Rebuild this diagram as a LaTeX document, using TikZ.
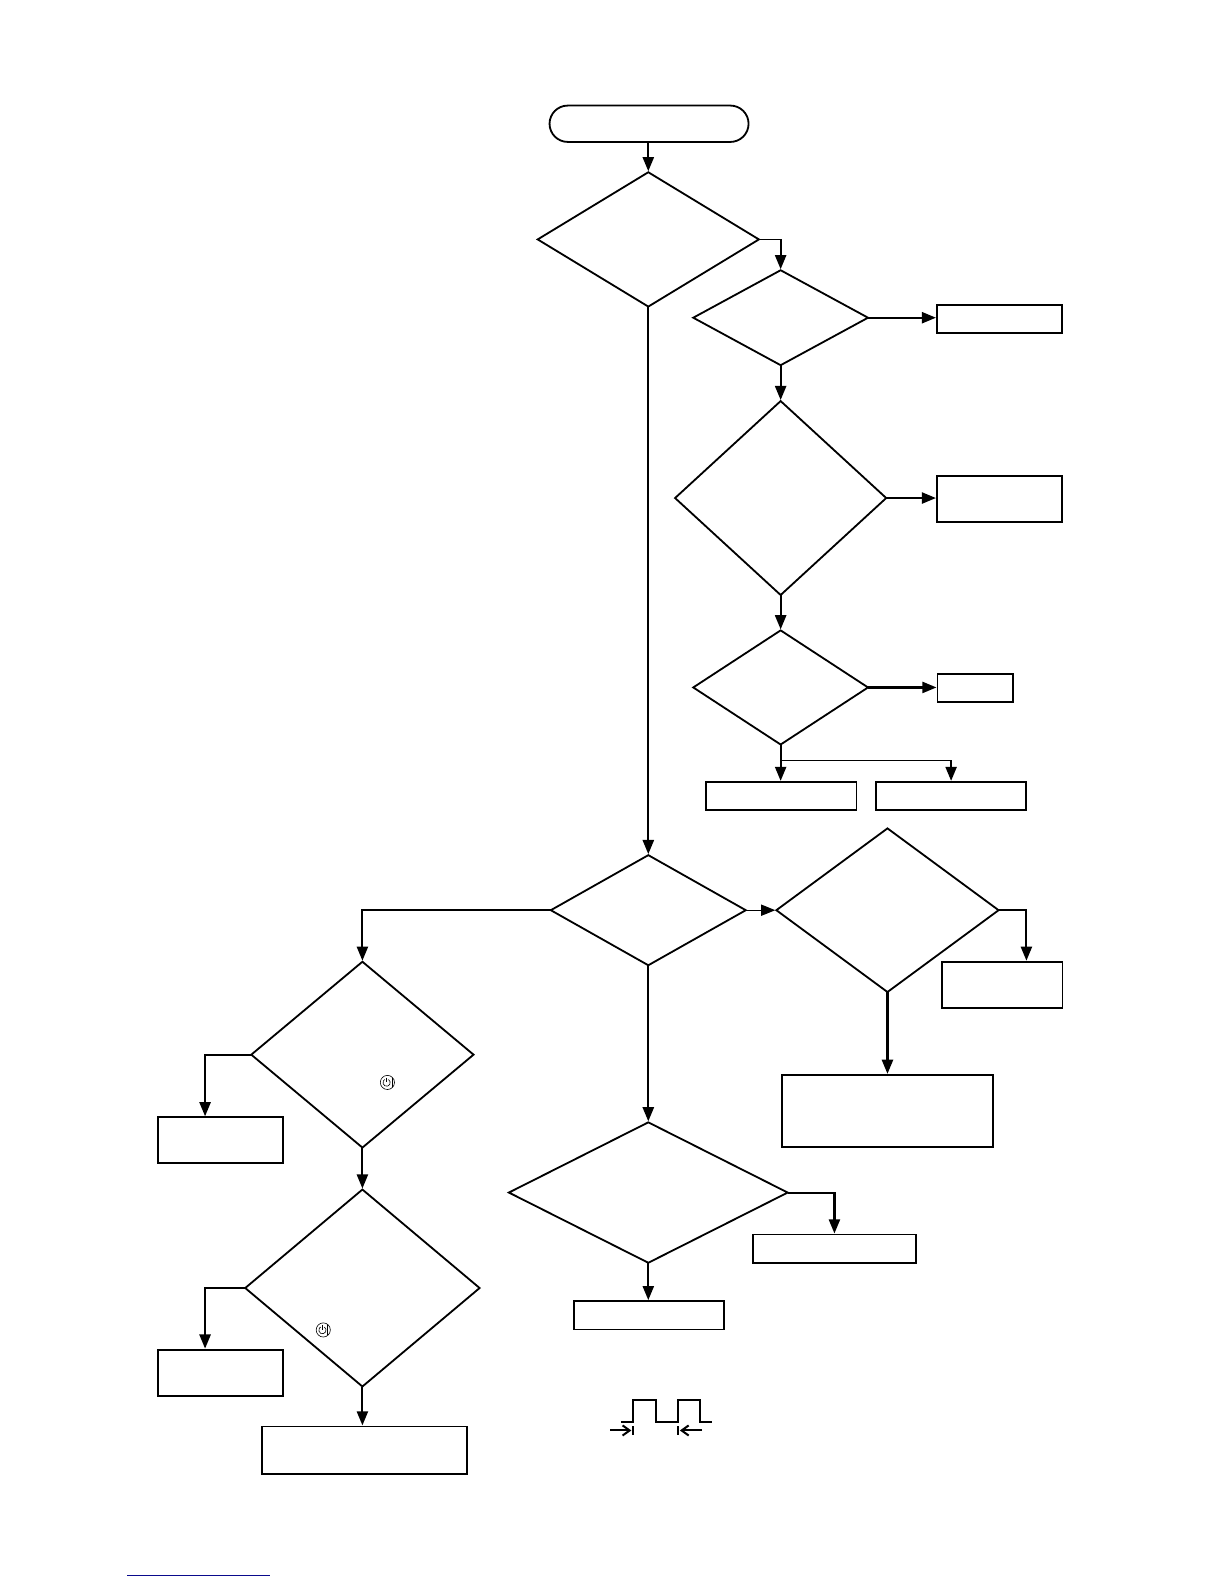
\documentclass[tikz,border=0pt]{standalone}
\usetikzlibrary{shapes.geometric,arrows.meta,calc}
\definecolor{linkblue}{RGB}{10,10,140}
\tikzset{
  x=0.5pt,y=-0.5pt,
  shapeline/.style={draw=black,line width=0.9pt,inner sep=0pt,outer sep=0pt,fill=white},
  dia/.style={shapeline,diamond},
  box/.style={shapeline,rectangle},
  term/.style={shapeline,rectangle,rounded corners=9pt},
  tiphead/.style={-{Triangle[length=7pt,width=5.5pt]},shorten >=0.5pt},
  conn/.style={draw=black,line width=1.05pt,tiphead},
  wire/.style={draw=black,line width=1.05pt},
  thinwire/.style={draw=black,line width=0.55pt},
  thinconn/.style={draw=black,line width=0.55pt,tiphead},
  pulseline/.style={draw=black,line width=0.9pt},
  pulsearrow/.style={draw=black,line width=1pt,-{Straight Barb[length=3.5pt,width=5pt]}},
  iconline/.style={draw=black,line width=0.3pt},
}
\newcommand{\powericon}[1]{%
  \draw[iconline] (#1) circle (3.5pt);
  \draw[iconline] ($(#1)+(-0.4pt,2.4pt)$) -- ($(#1)+(-0.4pt,0pt)$);
  \draw[iconline] ($(#1)+(0.5pt,1.47pt)$) arc[start angle=60,end angle=-240,radius=1.8pt];
  \draw[iconline] ($(#1)+(2.2pt,2.4pt)$) -- ($(#1)+(2.2pt,-2.4pt)$);
}
\begin{document}
\begin{tikzpicture}
\useasboundingbox (0,0) rectangle (1211.6,1568);

\node[term,minimum width=98.5pt,minimum height=18pt] (start) at (642.5,122.5) {};

\node[dia,minimum width=109.5pt,minimum height=66.5pt] (d1) at (641.75,237) {};
\node[dia,minimum width=86.5pt,minimum height=47pt] (d2) at (772.75,314.5) {};
\node[dia,minimum width=104.5pt,minimum height=96pt] (d3) at (772.75,493) {};
\node[dia,minimum width=86.5pt,minimum height=56.5pt] (d4) at (772.75,680.5) {};
\node[dia,minimum width=96.5pt,minimum height=54.5pt] (d5) at (641.75,901) {};
\node[dia,minimum width=110pt,minimum height=81pt] (d6) at (878.5,901) {};
\node[dia,minimum width=110pt,minimum height=92pt] (d7) at (358.75,1044) {};
\node[dia,minimum width=116pt,minimum height=97.5pt] (d8) at (358.75,1275) {};
\node[dia,minimum width=138pt,minimum height=69.5pt] (d9) at (641.75,1180.5) {};

\node[box,minimum width=62pt,minimum height=14pt] (b1) at (989.5,316) {};
\node[box,minimum width=62pt,minimum height=23pt] (b2) at (989.5,494) {};
\node[box,minimum width=37.5pt,minimum height=14pt] (b3) at (965.5,681) {};
\node[box,minimum width=74.5pt,minimum height=14pt] (b4) at (773.25,788) {};
\node[box,minimum width=74.5pt,minimum height=14pt] (b5) at (941.5,788) {};
\node[box,minimum width=59.5pt,minimum height=23pt] (b6) at (992.25,975) {};
\node[box,minimum width=104.5pt,minimum height=35.5pt] (b7) at (878.5,1099.5) {};
\node[box,minimum width=62pt,minimum height=22.5pt] (b8) at (218,1128.5) {};
\node[box,minimum width=62pt,minimum height=23pt] (b9) at (218,1359) {};
\node[box,minimum width=101.5pt,minimum height=23.5pt] (b10) at (360.5,1435.5) {};
\node[box,minimum width=81pt,minimum height=14pt] (b11) at (826,1236) {};
\node[box,minimum width=74.5pt,minimum height=14pt] (b12) at (642.5,1302) {};

% top chain
\draw[conn] (start.south -| d1.north) -- (d1.north);
\coordinate (k1) at (d1.east -| d2.north);
\draw[thinwire] (d1.east) -- (k1);
\draw[conn] (k1) -- (d2.north);
\draw[conn] (d2.east) -- (d2.east -| b1.west);
\draw[conn] (d2.south) -- (d3.north);
\draw[conn] (d3.east) -- (d3.east -| b2.west);
\draw[conn] (d3.south) -- (d4.north);
\draw[conn] (d4.east) -- (d4.east -| b3.west);
\draw[conn] (d4.south) -- (d4.south |- b4.north);
\coordinate (k2) at ($(d4.south)+(0,15.5)$);
\draw[thinwire] (k2) -- (k2 -| b5.north);
\draw[conn] (k2 -| b5.north) -- (b5.north);

% main column
\draw[conn] (d1.south) -- (d5.north);
\draw[thinconn] (d5.east) -- (d6.west);
\draw[conn] (d6.east) -| ([xshift=11.9pt]b6.north);
\draw[conn] (d6.south) -- (b7.north);
\draw[conn] (d5.west) -| (d7.north);
\draw[conn] (d5.south) -- (d9.north);
\draw[conn] (d9.east) -| (b11.north);
\draw[conn] (d9.south) -- (d9.south |- b12.north);

% left column
\draw[conn] (d7.west) -| ([xshift=-7.5pt]b8.north);
\draw[conn] (d7.south) -- (d8.north);
\draw[conn] (d8.west) -| ([xshift=-7.5pt]b9.north);
\draw[conn] (d8.south) -- (d8.south |- b10.north);

% power icons
\coordinate (pw1) at (383.5,1071.5);
\coordinate (pw2) at (320,1316.5);
\powericon{pw1}
\powericon{pw2}

% pulse figure
\draw[pulseline] (615,1408) -- (626.5,1408) -- (626.5,1386) -- (649,1386) -- (649,1408) -- (671,1408) -- (671,1386) -- (693,1386) -- (693,1408) -- (705,1408);
\draw[pulsearrow] (604,1416) -- (625,1416);
\draw[pulseline] (627,1412) -- (627,1420);
\draw[pulsearrow] (695,1416) -- (673,1416);
\draw[pulseline] (671,1412) -- (671,1420);

% underline
\draw[draw=linkblue,line width=0.7pt] (126,1559.5) -- (267,1559.5);
\end{tikzpicture}
\end{document}
